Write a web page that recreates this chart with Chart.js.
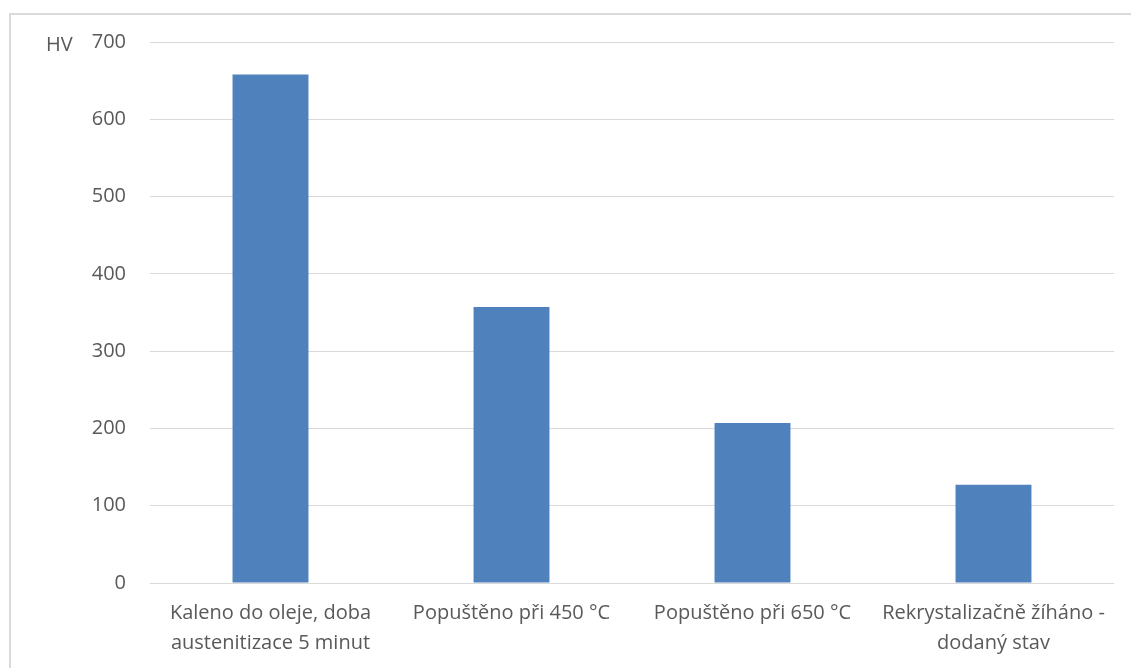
<!DOCTYPE html>
<html>
<head>
<meta charset="utf-8">
<script src="https://cdn.jsdelivr.net/npm/chart.js@4"></script>
<style>
  html, body { margin: 0; padding: 0; background: #fff; }
  #wrap { width: 1131px; height: 668px; position: relative; }
</style>
</head>
<body>
<div id="wrap"><canvas id="chart"></canvas></div>
<script>
// data
const categories = [
    ['Kaleno do oleje, doba', 'austenitizace 5 minut'],
    'Popuštěno při 450 °C',
    'Popuštěno při 650 °C',
    ['Rekrystalizačně žíháno -', 'dodaný stav']
];
const hardness = [658, 357, 207, 127];
const yTicks = [0, 100, 200, 300, 400, 500, 600, 700];
const unitLabel = 'HV';

const textColor = '#595959';
const fontFamily = "'Open Sans', 'Liberation Sans', sans-serif";

// outer frame + unit label next to the top tick
const extras = {
    id: 'extras',
    beforeDraw(chart) {
        const ctx = chart.ctx;
        ctx.save();
        ctx.strokeStyle = '#d9d9d9';
        ctx.lineWidth = 2;
        ctx.strokeRect(10, 14, chart.width + 20, chart.height + 20);
        ctx.restore();
    },
    afterDraw(chart) {
        const ctx = chart.ctx;
        const y = chart.scales.y;
        ctx.save();
        ctx.fillStyle = textColor;
        ctx.font = '20px ' + fontFamily;
        ctx.textAlign = 'left';
        ctx.textBaseline = 'middle';
        ctx.fillText(unitLabel, 46, y.getPixelForValue(yTicks[yTicks.length - 1]) + 3);
        ctx.restore();
    }
};

new Chart(document.getElementById('chart'), {
    type: 'bar',
    data: {
        labels: categories,
        datasets: [{
            label: unitLabel,
            data: hardness,
            backgroundColor: '#4f81bd',
            borderWidth: 0,
            categoryPercentage: 1,
            barPercentage: 0.315
        }]
    },
    options: {
        responsive: true,
        maintainAspectRatio: false,
        animation: false,
        layout: { padding: { top: 42, right: 17, left: 0, bottom: 0 } },
        plugins: {
            legend: { display: false },
            tooltip: { enabled: false }
        },
        scales: {
            x: {
                grid: { display: false, drawTicks: false },
                border: { display: false },
                ticks: {
                    color: textColor,
                    font: { family: fontFamily, size: 20, lineHeight: 1.5 },
                    padding: 15,
                    maxRotation: 0,
                    autoSkip: false
                },
                afterFit(scale) { scale.height = 85; }
            },
            y: {
                min: 0,
                max: 700,
                afterBuildTicks(scale) { scale.ticks = yTicks.map(v => ({ value: v })); },
                grid: { color: '#d9d9d9', lineWidth: 1, drawTicks: false },
                border: { display: false },
                ticks: {
                    color: textColor,
                    font: { family: fontFamily, size: 20 },
                    padding: 24
                },
                afterFit(scale) { scale.width = 150; }
            }
        }
    },
    plugins: [extras]
});
</script>
</body>
</html>
